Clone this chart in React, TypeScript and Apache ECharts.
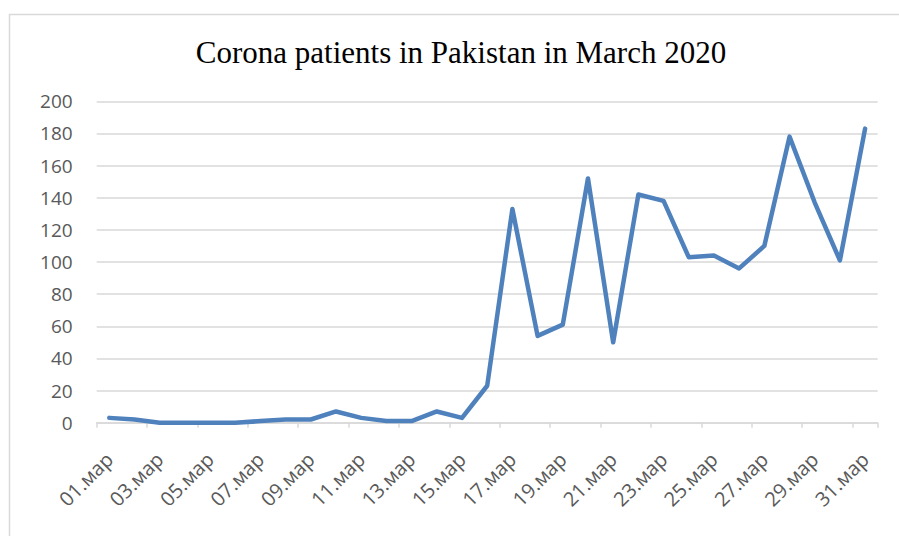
import React, { useEffect, useRef } from "react";
import * as echarts from "echarts";

const days: string[] = [
  "01.мар", "02.мар", "03.мар", "04.мар", "05.мар", "06.мар", "07.мар", "08.мар",
  "09.мар", "10.мар", "11.мар", "12.мар", "13.мар", "14.мар", "15.мар", "16.мар",
  "17.мар", "18.мар", "19.мар", "20.мар", "21.мар", "22.мар", "23.мар", "24.мар",
  "25.мар", "26.мар", "27.мар", "28.мар", "29.мар", "30.мар", "31.мар",
];

const patients: number[] = [
  3, 2, 0, 0, 0, 0, 1, 2, 2, 7, 3, 1, 1, 7, 3, 23,
  133, 54, 61, 152, 50, 142, 138, 103, 104, 96, 110, 178, 137, 101, 183,
];

const titleText = "Corona patients in Pakistan in March 2020";

export default function App() {
  const ref = useRef<HTMLDivElement>(null);

  useEffect(() => {
    if (!ref.current) return;
    const chart = echarts.init(ref.current, undefined, { renderer: "svg" });
    chart.setOption({
      animation: false,
      backgroundColor: "#ffffff",
      title: {
        text: titleText,
        left: 461,
        top: 37,
        padding: 0,
        textAlign: "center",
        textStyle: {
          fontFamily: "Liberation Serif",
          fontWeight: "normal",
          fontSize: 31,
          color: "#000000",
        },
      },
      graphic: [
        {
          type: "rect",
          shape: { x: 9.5, y: 14.5, width: 1000, height: 1000 },
          style: { fill: "none", stroke: "#d9d9d9", lineWidth: 1.5 },
          silent: true,
        },
      ],
      grid: {
        left: 96.7,
        right: 21.3,
        top: 101.3,
        bottom: 113.3,
        containLabel: false,
      },
      xAxis: {
        type: "category",
        data: days,
        boundaryGap: true,
        axisLine: { show: true, lineStyle: { color: "#d9d9d9", width: 1.5 } },
        axisTick: {
          show: true,
          interval: 1,
          length: 5,
          lineStyle: { color: "#d9d9d9", width: 1.5 },
        },
        axisLabel: {
          interval: 1,
          rotate: 45,
          margin: 33,
          color: "#595959",
          fontFamily: "Open Sans",
          fontSize: 20,
        },
      },
      yAxis: {
        type: "value",
        min: 0,
        max: 200,
        interval: 20,
        axisLine: { show: false },
        axisTick: { show: false },
        splitLine: { show: true, lineStyle: { color: "#d9d9d9", width: 1.5 } },
        axisLabel: {
          margin: 24,
          color: "#595959",
          fontFamily: "Open Sans",
          fontSize: 19,
        },
      },
      series: [
        {
          type: "line",
          data: patients,
          symbol: "none",
          smooth: false,
          lineStyle: { color: "#4f81bd", width: 4.5, cap: "round", join: "round" },
          itemStyle: { color: "#4f81bd" },
        },
      ],
    });
    return () => chart.dispose();
  }, []);

  return (
    <div
      ref={ref}
      style={{ position: "fixed", left: 0, top: 0, width: 899, height: 536 }}
    />
  );
}
